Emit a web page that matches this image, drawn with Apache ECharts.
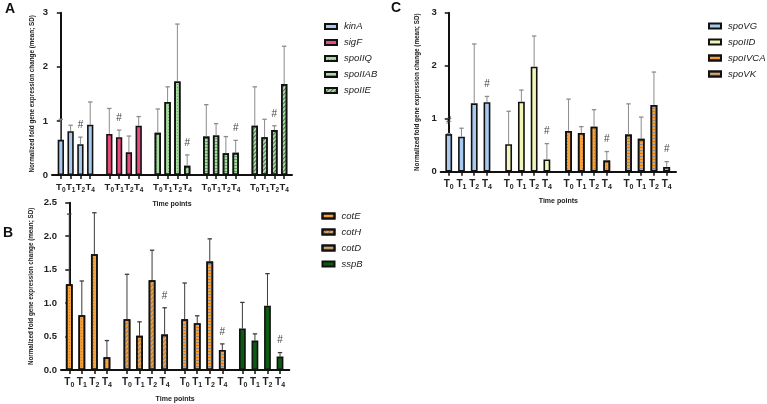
<!DOCTYPE html>
<html>
<head>
<meta charset="utf-8">
<script src="https://cdn.jsdelivr.net/npm/echarts@6/dist/echarts.min.js"></script>
<style>
  html, body { margin: 0; background: #fff; }
  #chart { width: 767px; height: 404px; }
</style>
</head>
<body>
<div id="chart"></div>
<script>
const timePoints = ['0', '1', '2', '4'];

// Panel A
const genesA = ['kinA', 'sigF', 'spoIIQ', 'spoIIAB', 'spoIIE'];
const kinAMean = [0.65, 0.81, 0.57, 0.93];
const kinAUpper = [1.03, 0.92, 0.70, 1.35];
const kinAFlag = [0, 0, 1, 0];
const sigFMean = [0.76, 0.70, 0.42, 0.91];
const sigFUpper = [1.23, 0.83, 0.72, 1.08];
const sigFFlag = [0, 1, 0, 0];
const spoIIQMean = [0.78, 1.35, 1.73, 0.17];
const spoIIQUpper = [1.22, 1.63, 2.79, 0.37];
const spoIIQFlag = [0, 0, 0, 1];
const spoIIABMean = [0.71, 0.73, 0.40, 0.41];
const spoIIABUpper = [1.30, 0.95, 0.71, 0.64];
const spoIIABFlag = [0, 0, 0, 1];
const spoIIEMean = [0.91, 0.70, 0.83, 1.68];
const spoIIEUpper = [1.63, 1.03, 0.91, 2.38];
const spoIIEFlag = [0, 0, 1, 0];

// Panel B
const genesB = ['cotE', 'cotH', 'cotD', 'sspB'];
const cotEMean = [1.28, 0.82, 1.73, 0.19];
const cotEUpper = [2.33, 1.33, 2.35, 0.44];
const cotEFlag = [0, 0, 0, 0];
const cotHMean = [0.76, 0.51, 1.34, 0.53];
const cotHUpper = [1.43, 0.72, 1.79, 0.93];
const cotHFlag = [0, 0, 0, 1];
const cotDMean = [0.76, 0.70, 1.62, 0.30];
const cotDUpper = [1.30, 0.81, 1.96, 0.39];
const cotDFlag = [0, 0, 0, 1];
const sspBMean = [0.62, 0.44, 0.96, 0.20];
const sspBUpper = [1.01, 0.54, 1.44, 0.26];
const sspBFlag = [0, 0, 0, 1];

// Panel C
const genesC = ['spoVG', 'spoIID', 'spoIVCA', 'spoVK'];
const spoVGMean = [0.71, 0.66, 1.29, 1.31];
const spoVGUpper = [0.72, 0.82, 2.41, 1.42];
const spoVGFlag = [1, 0, 0, 1];
const spoIIDMean = [0.52, 1.32, 1.98, 0.23];
const spoIIDUpper = [1.14, 1.54, 2.56, 0.53];
const spoIIDFlag = [0, 0, 0, 1];
const spoIVCAMean = [0.77, 0.73, 0.85, 0.21];
const spoIVCAUpper = [1.37, 0.85, 1.17, 0.38];
const spoIVCAFlag = [0, 0, 0, 1];
const spoVKMean = [0.70, 0.62, 1.26, 0.09];
const spoVKUpper = [1.28, 1.03, 1.88, 0.19];
const spoVKFlag = [0, 0, 0, 1];

const yTitle = 'Normalized fold gene expression change (mean; SD)';
const FONT = 'Liberation Sans, Arial, sans-serif';

// fill styles
const dots = (c) => ({ symbol: 'rect', color: c, dashArrayX: [1, 2], dashArrayY: [1, 2] });
const hstripes = (c) => ({ symbol: 'rect', color: c, dashArrayX: [1, 0], dashArrayY: [1, 2] });
const diag = (c) => ({ symbol: 'rect', color: c, dashArrayX: [1, 0], dashArrayY: [1, 2], rotation: -Math.PI / 4 });

const fills = {
  kinA: { color: '#a9caf0' },
  sigF: { color: '#ea4b7d' },
  spoIIQ: { color: '#a8dba0', decal: dots('rgba(70,130,70,0.55)') },
  spoIIAB: { color: '#a8dba0', decal: hstripes('rgba(60,110,60,0.6)') },
  spoIIE: { color: '#a8dba0', decal: diag('rgba(40,70,50,0.7)') },
  cotE: { color: '#f5a23a', decal: dots('rgba(170,90,20,0.55)') },
  cotH: { color: '#f5a23a', decal: diag('rgba(110,125,150,0.85)') },
  cotD: { color: '#f5a23a', decal: hstripes('rgba(120,135,160,0.85)') },
  sspB: { color: '#0b5c10' },
  spoVG: { color: '#a9caf0' },
  spoIID: { color: '#f3f6b8' },
  spoIVCA: { color: '#f5a23a', decal: dots('rgba(170,90,20,0.55)') },
  spoVK: { color: '#f5a23a', decal: hstripes('rgba(120,135,160,0.85)') }
};

const panels = [
  {
    genes: genesA,
    mean: [kinAMean, sigFMean, spoIIQMean, spoIIABMean, spoIIEMean],
    upper: [kinAUpper, sigFUpper, spoIIQUpper, spoIIABUpper, spoIIEUpper],
    flag: [kinAFlag, sigFFlag, spoIIQFlag, spoIIABFlag, spoIIEFlag],
    step: 4.95, errColor: '#8c8c8c', barWidth: 6.3, tSize: 9.5, sSize: 6.5
  },
  {
    genes: genesB,
    mean: [cotEMean, cotHMean, cotDMean, sspBMean],
    upper: [cotEUpper, cotHUpper, cotDUpper, sspBUpper],
    flag: [cotEFlag, cotHFlag, cotDFlag, sspBFlag],
    step: 4.6, errColor: '#3c3c3c', barWidth: 6.8, tSize: 10, sSize: 7
  },
  {
    genes: genesC,
    mean: [spoVGMean, spoIIDMean, spoIVCAMean, spoVKMean],
    upper: [spoVGUpper, spoIIDUpper, spoIVCAUpper, spoVKUpper],
    flag: [spoVGFlag, spoIIDFlag, spoIVCAFlag, spoVKFlag],
    step: 4.7, errColor: '#8c8c8c', barWidth: 6.8, tSize: 10, sSize: 7
  }
];

const grids = [
  { left: 52, right: 475, top: 12.7, bottom: 229 },
  { left: 61, right: 477.7, top: 202.7, bottom: 32.3 },
  { left: 440.7, right: 91, top: 12.7, bottom: 232.3 }
];
const xRanges = [[-0.9, 23.6], [-0.66, 17.54], [-0.63, 17.83]];
const yRanges = [[0, 3, 1], [0, 2.5, 0.5], [0, 3, 1]];
const yNameGaps = [17, 27, 20];
const legends = [
  { left: 319, top: 16.5 },
  { left: 316.5, top: 206 },
  { left: 703, top: 16 }
];

const xAxes = [], yAxes = [], series = [], legendList = [];

panels.forEach((p, pi) => {
  const positions = [], labels = [];
  p.genes.forEach((g, gi) => {
    timePoints.forEach((t, j) => {
      positions.push(gi * p.step + j);
      labels.push(t);
    });
  });

  xAxes.push({
    type: 'value', gridIndex: pi,
    min: xRanges[pi][0], max: xRanges[pi][1],
    name: 'Time points', nameLocation: 'middle', nameGap: 26,
    nameTextStyle: { fontFamily: FONT, fontSize: 7, fontWeight: 'bold', color: '#222' },
    splitLine: { show: false },
    axisLine: { lineStyle: { color: '#111', width: 2 } },
    axisTick: { customValues: positions, length: 4, lineStyle: { color: '#111', width: 1.5 } },
    axisLabel: {
      customValues: positions, margin: 6,
      showMinLabel: true, showMaxLabel: true, hideOverlap: false,
      formatter: (v) => {
        const k = positions.findIndex((q) => Math.abs(q - v) < 1e-6);
        return '{t|T}{s|' + (k >= 0 ? labels[k] : '') + '}';
      },
      rich: {
        t: { fontFamily: FONT, fontSize: p.tSize, fontWeight: 'bold', color: '#222', lineHeight: 13 },
        s: { fontFamily: FONT, fontSize: p.sSize, fontWeight: 'bold', color: '#222', lineHeight: 7, verticalAlign: 'bottom' }
      }
    }
  });

  yAxes.push({
    type: 'value', gridIndex: pi,
    min: yRanges[pi][0], max: yRanges[pi][1], interval: yRanges[pi][2],
    name: yTitle, nameLocation: 'middle', nameRotate: 90, nameGap: yNameGaps[pi],
    nameTextStyle: { fontFamily: FONT, fontSize: 6.3, fontWeight: 'bold', color: '#222' },
    splitLine: { show: false },
    axisLine: { show: true, lineStyle: { color: '#111', width: 2 } },
    axisTick: { show: true, length: 4, lineStyle: { color: '#111', width: 1.5 } },
    axisLabel: {
      fontFamily: FONT, fontSize: 9.5, fontWeight: 'bold', color: '#222', margin: 4,
      formatter: (v) => (pi === 1 ? v.toFixed(1) : String(v))
    }
  });

  const errData = [];
  p.genes.forEach((g, gi) => {
    const f = fills[g];
    series.push({
      name: g, type: 'bar', xAxisIndex: pi, yAxisIndex: pi,
      barWidth: p.barWidth, barGap: '-100%',
      data: timePoints.map((t, j) => [gi * p.step + j, p.mean[gi][j]]),
      itemStyle: { color: f.color, decal: f.decal, borderColor: '#111', borderWidth: 1.6 }
    });
    timePoints.forEach((t, j) => {
      errData.push([gi * p.step + j, p.mean[gi][j], p.upper[gi][j], p.flag[gi][j]]);
    });
  });

  const errColor = p.errColor;
  series.push({
    type: 'custom', xAxisIndex: pi, yAxisIndex: pi, clip: false, z: 3,
    data: errData,
    renderItem: (params, api) => {
      const x = api.value(0);
      const a = api.coord([x, api.value(1)]);
      const b = api.coord([x, api.value(2)]);
      const children = [
        { type: 'line', shape: { x1: a[0], y1: a[1], x2: b[0], y2: b[1] }, style: { stroke: errColor, lineWidth: 1 } },
        { type: 'line', shape: { x1: b[0] - 2.2, y1: b[1], x2: b[0] + 2.2, y2: b[1] }, style: { stroke: errColor, lineWidth: 1.3 } }
      ];
      if (api.value(3)) {
        children.push({
          type: 'text', x: b[0], y: b[1] - 12,
          style: { text: '#', fontFamily: FONT, fontSize: 10, fill: '#444', align: 'center', verticalAlign: 'middle' }
        });
      }
      return { type: 'group', children };
    }
  });

  legendList.push({
    data: p.genes, orient: 'vertical',
    left: legends[pi].left, top: legends[pi].top,
    icon: 'rect', itemWidth: 12, itemHeight: 5, itemGap: 6,
    textStyle: { fontFamily: FONT, fontSize: 9.5, fontStyle: 'italic', color: '#222', padding: [0, 0, 0, 2] },
    selectedMode: false
  });
});

const chart = echarts.init(document.getElementById('chart'));
chart.setOption({
  animation: false,
  backgroundColor: '#fff',
  grid: grids,
  xAxis: xAxes,
  yAxis: yAxes,
  legend: legendList,
  graphic: [
    { type: 'text', left: 5, top: 2, style: { text: 'A', fontFamily: FONT, fontSize: 14, fontWeight: 'bold', fill: '#111' } },
    { type: 'text', left: 3, top: 226, style: { text: 'B', fontFamily: FONT, fontSize: 14, fontWeight: 'bold', fill: '#111' } },
    { type: 'text', left: 391, top: 1, style: { text: 'C', fontFamily: FONT, fontSize: 14, fontWeight: 'bold', fill: '#111' } }
  ],
  series: series
});
</script>
</body>
</html>
